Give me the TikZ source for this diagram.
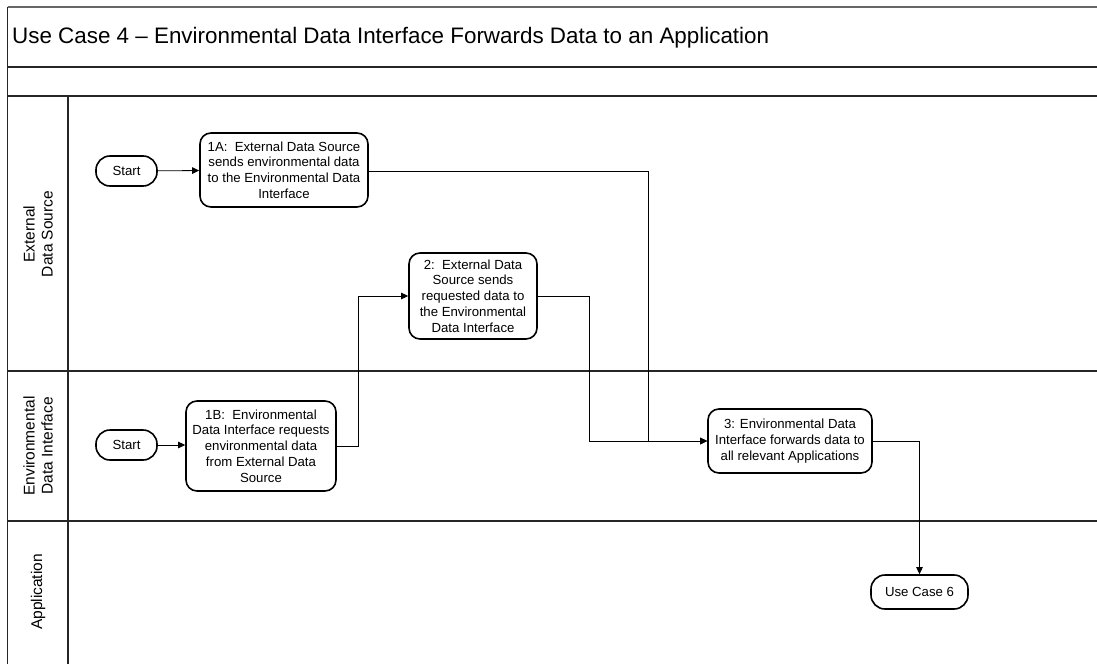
\documentclass[tikz,border=0pt]{standalone}
\usepackage{fontspec}
\setmainfont{Liberation Sans}
\usetikzlibrary{arrows.meta}

\tikzset{
  lane/.style={line width=1.1pt, black!85},
  task/.style={draw, line width=1.6pt, rounded corners=11pt, align=center,
    inner sep=2pt, font=\fontsize{13.2}{15.8}\selectfont},
  term/.style={draw, line width=1.6pt, rounded corners=14pt, align=center,
    minimum width=61pt, minimum height=30pt, inner sep=1pt,
    font=\fontsize{13.2}{15}\selectfont},
  flow/.style={line width=0.8pt, -{Triangle[length=7pt,width=6.5pt]}},
  lanelabel/.style={rotate=90, align=center, font=\fontsize{15.5}{18}\selectfont}
}

\begin{document}
\begin{tikzpicture}[x=1pt,y=-1pt]
\useasboundingbox (0,0) rectangle (1097,664);
% pool frame
\draw [line width=2pt, black!60] (7.5,6.5) -- (1097,6.5);
\draw [lane] (7.5,6.5) -- (7.5,664);
\draw [lane] (7.5,67) -- (1097,67);
\draw [lane] (7.5,96) -- (1097,96);
\draw [lane] (68,96) -- (68,664);
\draw [lane] (7.5,371) -- (1097,371);
\draw [lane] (7.5,521) -- (1097,521);
\node (title) [anchor=base west, inner sep=0pt, font=\fontsize{22.4}{26}\selectfont] at (12,43.5)
  {Use Case 4 – Environmental Data Interface Forwards Data to an Application};
% lane labels
\node (eds) [lanelabel] at (38,234) {External\\Data Source};
\node (edi) [lanelabel] at (38,446) {Environmental\\Data Interface};
\node (app) [lanelabel] at (38,592) {Application};
% steps
\node (start1) [term] at (126.5,171) {Start};
\node (s1a) [task, minimum width=168pt, minimum height=74pt] at (284,170)
  {1A:\ \ External Data Source\\sends environmental data\\to the Environmental Data\\Interface};
\node (s2) [task, minimum width=128pt, minimum height=86pt] at (473,296)
  {2:\ \ External Data\\Source sends\\requested data to\\the Environmental\\Data Interface};
\node (start2) [term] at (126.5,445) {Start};
\node (s1b) [task, minimum width=150pt, minimum height=90pt] at (261,446)
  {1B:\ \ Environmental\\Data Interface requests\\environmental data\\from External Data\\Source};
\node (s3) [task, minimum width=164pt, minimum height=64pt] at (790,441)
  {3: Environmental Data\\Interface forwards data to\\all relevant Applications};
\node (uc6) [term, minimum width=97pt, minimum height=34pt] at (919.5,592) {Use Case 6};
% connectors
\coordinate (j1) at (648,441);
\coordinate (j2) at (589,441);
\draw [flow] (start1) -- (s1a);
\draw [flow] (start2) -- (s1b.west |- start2);
\draw [flow] (s1a.east |- start1) -| (j1) -- (s3.west);
\draw [flow] (s1b.east) -- ++(22,0) |- (s2.west);
\draw [flow] (s2.east) -| (j2) -- (s3.west);
\draw [flow] (s3.east) -| (uc6.north);
\end{tikzpicture}
\end{document}
